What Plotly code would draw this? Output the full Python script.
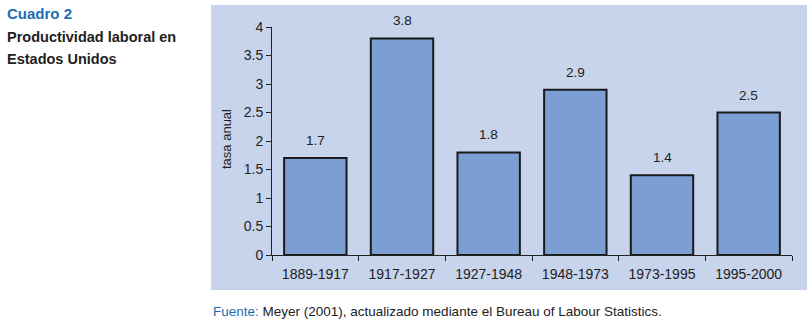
import plotly.graph_objects as go

categories = ["1889-1917", "1917-1927", "1927-1948", "1948-1973", "1973-1995", "1995-2000"]
values = [1.7, 3.8, 1.8, 2.9, 1.4, 2.5]
value_labels = ["1.7", "3.8", "1.8", "2.9", "1.4", "2.5"]
y_ticks = [0, 0.5, 1, 1.5, 2, 2.5, 3, 3.5, 4]
y_tick_labels = ["0", "0.5", "1", "1.5", "2", "2.5", "3", "3.5", "4"]

W, H = 811, 325
L, R, T, B = 272, 19, 27, 70
pw, ph = W - L - R, H - T - B

def px(x):
    return (x - L) / pw

def py(y):
    return (H - B - y) / ph

FONT = "Liberation Sans, Arial, sans-serif"

fig = go.Figure(go.Bar(
    x=categories, y=values,
    marker=dict(color="#7B9FD3", line=dict(color="#1a1a1a", width=2)),
    cliponaxis=False, width=0.72, hoverinfo="skip",
))

label_anns = [
    dict(x=c, y=v, text=t, xref="x", yref="y", showarrow=False,
         yanchor="bottom", yshift=8, font=dict(size=13.5, color="#222", family=FONT))
    for c, v, t in zip(categories, values, value_labels)
]

fig.update_layout(
    width=W, height=H, margin=dict(l=L, r=R, t=T, b=B, autoexpand=False),
    paper_bgcolor="white", plot_bgcolor="rgba(0,0,0,0)",
    font=dict(family=FONT, size=13, color="#222"),
    showlegend=False,
    shapes=[dict(type="rect", xref="paper", yref="paper", layer="below",
                 x0=px(211), x1=px(807), y0=py(290), y1=py(5),
                 fillcolor="#C7D4EC", line=dict(width=0))],
    annotations=label_anns + [
        dict(text="<b>Cuadro 2</b>", xref="paper", yref="paper", x=px(5), y=py(13),
             xanchor="left", yanchor="middle", showarrow=False,
             font=dict(size=15, color="#1F6DB4", family=FONT)),
        dict(text="<b>Productividad laboral en</b>", xref="paper", yref="paper", x=px(5), y=py(37),
             xanchor="left", yanchor="middle", showarrow=False,
             font=dict(size=14.5, color="#222", family=FONT)),
        dict(text="<b>Estados Unidos</b>", xref="paper", yref="paper", x=px(5), y=py(59),
             xanchor="left", yanchor="middle", showarrow=False,
             font=dict(size=14.5, color="#222", family=FONT)),
        dict(text="<span style='color:#1F6DB4'>Fuente:</span> Meyer (2001), actualizado mediante el Bureau of Labour Statistics.",
             xref="paper", yref="paper", x=px(211), y=py(311),
             xanchor="left", yanchor="middle", showarrow=False,
             font=dict(size=13.5, color="#222", family=FONT)),
        dict(text="tasa anual", xref="paper", yref="paper", x=px(226), y=py(139),
             xanchor="center", yanchor="middle", showarrow=False, textangle=-90,
             font=dict(size=13, color="#222", family=FONT)),
    ],
)

fig.update_xaxes(showline=True, linecolor="#222", linewidth=1, ticks="outside",
                 tickson="boundaries", ticklen=5, tickcolor="#222",
                 showgrid=False, tickfont=dict(size=14), ticklabelstandoff=6)
fig.update_yaxes(range=[0, 4], tickvals=y_ticks, ticktext=y_tick_labels,
                 showline=True, linecolor="#222", linewidth=1, ticks="outside",
                 ticklen=5, tickcolor="#222", showgrid=False, zeroline=False,
                 tickfont=dict(size=14))

fig.write_html("out.html", config={"displayModeBar": False},
               post_script="document.body.style.margin='0';")
